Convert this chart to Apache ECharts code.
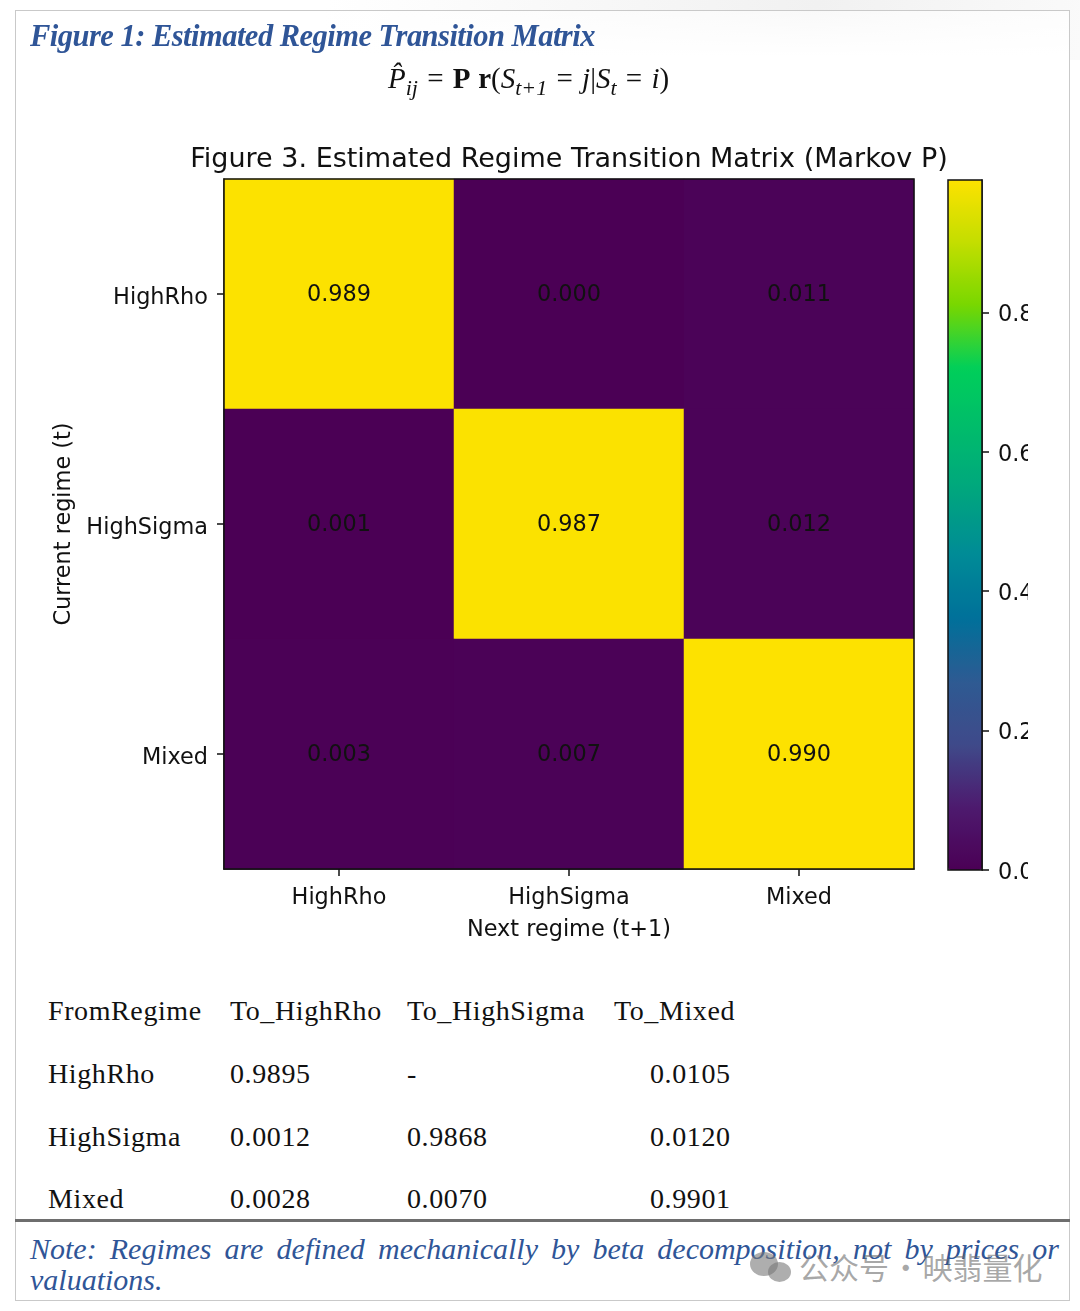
<!DOCTYPE html>
<html>
<head>
<meta charset="utf-8">
<script src="https://cdn.jsdelivr.net/npm/echarts@6/dist/echarts.min.js"></script>
<style>
  html, body { margin: 0; padding: 0; background: #fff; }
  #page { position: relative; width: 1080px; height: 1311px; overflow: hidden; font-family: "Liberation Serif", serif; }
  #top { position: absolute; left: 0; top: 0; width: 1080px; height: 60px; background: linear-gradient(100deg, #fff 30%, #f1f1f1 75%, #fafafa 100%); }
  #frame { position: absolute; left: 15px; top: 10px; width: 1053px; height: 1289px; border: 1.5px solid #c9c9c9; background: linear-gradient(180deg, rgba(255,255,255,0.6) 0, #fff 45px); }
  #main { position: absolute; left: 0; top: 0; width: 1028px; height: 960px; }
  .blue { position: absolute; color: #2f5597; font-style: italic; }
  #heading { left: 30px; top: 19px; font-size: 30.5px; font-weight: bold; letter-spacing: -0.52px; white-space: nowrap; }
  #formula { position: absolute; left: 388px; top: 62px; font-size: 29px; font-family: "Liberation Serif", serif; white-space: nowrap; color: #111; word-spacing: 2px; }
  #formula i { font-style: italic; }
  #formula sub { font-size: 22px; font-style: italic; line-height: 0; }
  table { position: absolute; left: 48px; top: 980px; border-collapse: collapse; font-size: 28px; letter-spacing: 0.6px; color: #111; }
  td { padding: 0; height: 62.7px; white-space: nowrap; }
  #rule { position: absolute; left: 15px; top: 1219px; width: 1055px; height: 3px; background: #6e6e6e; }
  #note { left: 30px; top: 1233px; width: 1029px; font-size: 30px; line-height: 31px; text-align: justify; }
  #mark { position: absolute; left: 799px; top: 1244px; font-family: "Noto Sans CJK SC"; font-size: 30px; word-spacing: -5px; color: rgba(110,110,110,0.6); white-space: nowrap; }
  .bub { position: absolute; border-radius: 50%; background: rgba(120,120,120,0.6); }
</style>
</head>
<body>
<div id="page">
  <div id="top"></div>
  <div id="frame"></div>
  <div id="main"></div>
  <div class="blue" id="heading">Figure 1: Estimated Regime Transition Matrix</div>
  <div id="formula"><i>P&#770;</i><sub>ij</sub> = <b>P r</b>(<i>S</i><sub>t+1</sub> = <i>j</i>|<i>S</i><sub>t</sub> = <i>i</i>)</div>
  <table id="tbl"></table>
  <div id="rule"></div>
  <div class="blue" id="note">Note: Regimes are defined mechanically by beta decomposition, not by prices or valuations.</div>
  <div class="bub" style="left:750px;top:1252px;width:28px;height:24px"></div>
  <div class="bub" style="left:768px;top:1262px;width:23px;height:20px"></div>
  <div id="mark">公众号 · 映翡量化</div>
</div>
<script>
// data
var nextRegimes = ['HighRho', 'HighSigma', 'Mixed'];
var currentRegimes = ['HighRho', 'HighSigma', 'Mixed'];
var rowHighRho = [0.989, 0.000, 0.011];
var rowHighSigma = [0.001, 0.987, 0.012];
var rowMixed = [0.003, 0.007, 0.990];
var colorbarTicks = [0, 0.2, 0.4, 0.6, 0.8];

var tableHeader = ['FromRegime', 'To_HighRho', 'To_HighSigma', 'To_Mixed'];
var tableRows = [
  ['HighRho', '0.9895', '-', '0.0105'],
  ['HighSigma', '0.0012', '0.9868', '0.0120'],
  ['Mixed', '0.0028', '0.0070', '0.9901']
];

// colormap as it shows in the screenshot, bottom to top
var viridis = ['#4b0055', '#4d1a6e', '#3f4a8a', '#2e5a92', '#00709a', '#008a97', '#00a57f', '#00bb6c', '#00cf5a', '#78d700', '#c3de00', '#fde200'];

var tableWidths = [182, 177, 207, 130];
var html = '';
[tableHeader].concat(tableRows).forEach(function (row) {
  html += '<tr>';
  row.forEach(function (cell, i) {
    var pad = (i === 3 && row !== tableHeader) ? 'padding-left:36px;' : '';
    html += '<td style="width:' + (tableWidths[i] - (pad ? 36 : 0)) + 'px;' + pad + '">' + cell + '</td>';
  });
  html += '</tr>';
});
document.getElementById('tbl').innerHTML = html;

var myChart = echarts.init(document.getElementById('main'));

var cells = [];
[rowHighRho, rowHighSigma, rowMixed].forEach(function (row, y) {
  row.forEach(function (v, x) {
    cells.push([x, y, v]);
  });
});

var chartFont = '"DejaVu Sans"';
var tickColor = '#111';
var frameLine = { show: true, lineStyle: { color: '#111', width: 1.5 } };

var option = {
  textStyle: { fontFamily: chartFont },
  title: {
    text: 'Figure 3. Estimated Regime Transition Matrix (Markov P)',
    left: 564, top: 141, textAlign: 'center',
    textStyle: { fontFamily: chartFont, fontWeight: 'normal', fontSize: 27, color: '#111' }
  },
  grid: [
    { left: 224, top: 179, width: 690, height: 690, outerBoundsMode: 'none', show: true, borderColor: '#111', borderWidth: 1.5, backgroundColor: 'transparent', z: 5 },
    { left: 948, top: 180, width: 34, height: 690, outerBoundsMode: 'none', show: true, borderColor: '#111', borderWidth: 1.5, backgroundColor: 'transparent', z: 5 }
  ],
  xAxis: [
    {
      type: 'category', gridIndex: 0, data: nextRegimes,
      name: 'Next regime (t+1)', nameLocation: 'middle', nameGap: 50,
      nameTextStyle: { fontSize: 22.4, color: tickColor, fontFamily: chartFont },
      axisLine: frameLine,
      axisTick: { show: true, alignWithLabel: true, length: 7, lineStyle: { color: tickColor, width: 1.5 } },
      axisLabel: { fontSize: 22.4, color: tickColor, margin: 18, fontFamily: chartFont },
      splitLine: { show: false }
    },
    { type: 'category', gridIndex: 1, data: [''], show: false }
  ],
  yAxis: [
    {
      type: 'category', gridIndex: 0, data: currentRegimes, inverse: true,
      name: 'Current regime (t)', nameLocation: 'middle', nameGap: 146,
      nameTextStyle: { fontSize: 22.4, color: tickColor, fontFamily: chartFont },
      axisLine: frameLine,
      axisTick: { show: true, alignWithLabel: true, length: 7, lineStyle: { color: tickColor, width: 1.5 } },
      // top aligned with a short line height drops the text a few px under the tick
      axisLabel: { fontSize: 22.4, color: tickColor, margin: 16, verticalAlign: 'top', lineHeight: 8, fontFamily: chartFont },
      splitLine: { show: false }
    },
    {
      type: 'value', gridIndex: 1, position: 'right', min: 0, max: 0.99,
      axisLine: frameLine,
      axisTick: { show: true, customValues: colorbarTicks, length: 7, lineStyle: { color: tickColor, width: 1.5 } },
      axisLabel: { customValues: colorbarTicks, fontSize: 22.4, color: tickColor, margin: 16, verticalAlign: 'top', lineHeight: 6, fontFamily: chartFont, formatter: function (v) { return v.toFixed(1); } },
      splitLine: { show: false }
    }
  ],
  visualMap: {
    type: 'continuous', min: 0, max: 0.99, seriesIndex: 0, dimension: 2,
    calculable: false, realtime: false, text: ['', ''],
    left: 948, top: 180, itemWidth: 34, itemHeight: 690, padding: 0,
    inRange: { color: viridis }
  },
  series: [
    {
      type: 'heatmap', xAxisIndex: 0, yAxisIndex: 0, data: cells,
      label: {
        show: true, fontSize: 22.4, color: '#111', fontFamily: chartFont, offset: [0, 1],
        formatter: function (p) { return p.value[2].toFixed(3); }
      },
      emphasis: { disabled: true }
    }
  ]
};

myChart.setOption(option);
</script>
</body>
</html>
